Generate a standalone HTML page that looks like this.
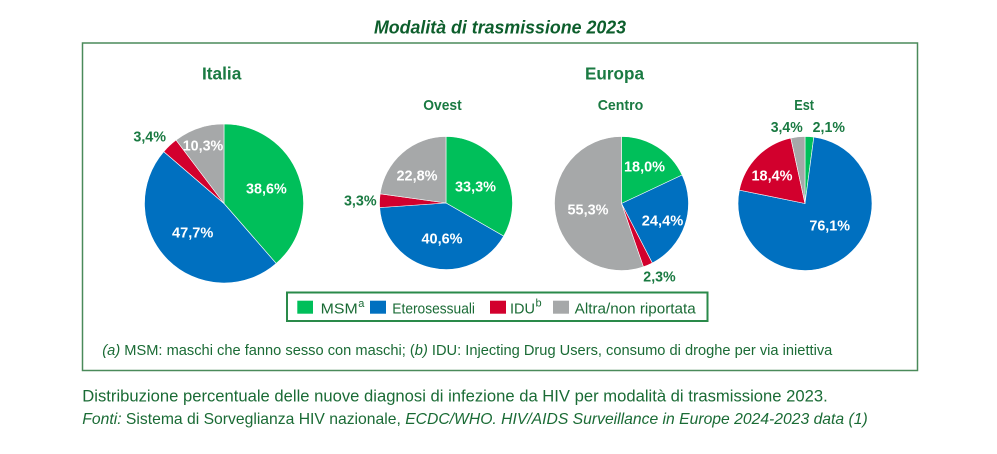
<!DOCTYPE html>
<html>
<head>
<meta charset="utf-8">
<style>
html,body{margin:0;padding:0;background:#fff;}
body{width:997px;height:454px;overflow:hidden;}
svg{display:block;}
text{font-family:"Liberation Sans",sans-serif;}
</style>
</head>
<body>
<svg width="997" height="454" viewBox="0 0 997 454" xmlns="http://www.w3.org/2000/svg">
  <!-- Title -->
  <text x="374" y="33.3" font-size="18" font-weight="bold" font-style="italic" fill="#0d5e2c" textLength="252" lengthAdjust="spacingAndGlyphs">Modalità di trasmissione 2023</text>

  <!-- Frame -->
  <rect x="82.5" y="43" width="835" height="327.5" fill="none" stroke="#4a8a5a" stroke-width="1.5"/>

  <!-- Headings -->
  <g font-weight="bold" fill="#1a7a42">
    <text x="202" y="79.3" font-size="17.5" textLength="39.3" lengthAdjust="spacingAndGlyphs">Italia</text>
    <text x="585" y="79.5" font-size="17.5" textLength="59" lengthAdjust="spacingAndGlyphs">Europa</text>
    <text x="423.3" y="110" font-size="15" textLength="38.4" lengthAdjust="spacingAndGlyphs">Ovest</text>
    <text x="597.7" y="110" font-size="15" textLength="45.6" lengthAdjust="spacingAndGlyphs">Centro</text>
    <text x="794.3" y="110" font-size="15" textLength="19.7" lengthAdjust="spacingAndGlyphs">Est</text>
  </g>

  <!-- Pies -->
  <g stroke="#ffffff" stroke-width="0.6" stroke-linejoin="round">
    <!-- Italia -->
    <path d="M224,203.5 L224,124 A79.5,79.5 0 0 1 276.20,263.47 Z" fill="#00bf5a"/>
    <path d="M224,203.5 L276.20,263.47 A79.5,79.5 0 0 1 163.73,151.66 Z" fill="#0070c0"/>
    <path d="M224,203.5 L163.73,151.66 A79.5,79.5 0 0 1 176.06,140.07 Z" fill="#d2002d"/>
    <path d="M224,203.5 L176.06,140.07 A79.5,79.5 0 0 1 224,124 Z" fill="#a6a8a9"/>
    <!-- Ovest -->
    <path d="M446,203 L446,136.5 A66.5,66.5 0 0 1 503.66,236.13 Z" fill="#00bf5a"/>
    <path d="M446,203 L503.66,236.13 A66.5,66.5 0 0 1 379.66,207.59 Z" fill="#0070c0"/>
    <path d="M446,203 L379.66,207.59 A66.5,66.5 0 0 1 380.13,193.84 Z" fill="#d2002d"/>
    <path d="M446,203 L380.13,193.84 A66.5,66.5 0 0 1 446,136.5 Z" fill="#a6a8a9"/>
    <!-- Centro -->
    <path d="M621.5,203.5 L621.5,136.5 A67,67 0 0 1 682.12,174.97 Z" fill="#00bf5a"/>
    <path d="M621.5,203.5 L682.12,174.97 A67,67 0 0 1 652.29,263.00 Z" fill="#0070c0"/>
    <path d="M621.5,203.5 L652.29,263.00 A67,67 0 0 1 643.40,266.82 Z" fill="#d2002d"/>
    <path d="M621.5,203.5 L643.40,266.82 A67,67 0 1 1 621.5,136.5 Z" fill="#a6a8a9"/>
    <!-- Est -->
    <path d="M805,203.5 L805,136.5 A67,67 0 0 1 813.82,137.08 Z" fill="#00bf5a"/>
    <path d="M805,203.5 L813.82,137.08 A67,67 0 1 1 739.35,190.12 Z" fill="#0070c0"/>
    <path d="M805,203.5 L739.35,190.12 A67,67 0 0 1 790.80,138.02 Z" fill="#d2002d"/>
    <path d="M805,203.5 L790.80,138.02 A67,67 0 0 1 805,136.5 Z" fill="#a6a8a9"/>
  </g>

  <!-- Pie labels -->
  <g font-size="15" font-weight="bold" text-anchor="middle">
    <g fill="#ffffff">
      <text x="266.4" y="193.3" textLength="40.7" lengthAdjust="spacingAndGlyphs">38,6%</text>
      <text x="192.7" y="237.3" textLength="41.3" lengthAdjust="spacingAndGlyphs">47,7%</text>
      <text x="203" y="150.7" textLength="40.6" lengthAdjust="spacingAndGlyphs">10,3%</text>
      <text x="475.5" y="191.3" textLength="41" lengthAdjust="spacingAndGlyphs">33,3%</text>
      <text x="417" y="180.7" textLength="41" lengthAdjust="spacingAndGlyphs">22,8%</text>
      <text x="442" y="243.3" textLength="41" lengthAdjust="spacingAndGlyphs">40,6%</text>
      <text x="644.5" y="171.3" textLength="41" lengthAdjust="spacingAndGlyphs">18,0%</text>
      <text x="588" y="214.7" textLength="41" lengthAdjust="spacingAndGlyphs">55,3%</text>
      <text x="662.5" y="225.3" textLength="41.6" lengthAdjust="spacingAndGlyphs">24,4%</text>
      <text x="772" y="180.7" textLength="41" lengthAdjust="spacingAndGlyphs">18,4%</text>
      <text x="829.7" y="230.7" textLength="40.7" lengthAdjust="spacingAndGlyphs">76,1%</text>
    </g>
    <g fill="#1a7a42">
      <text x="149.7" y="141.7" textLength="32.7" lengthAdjust="spacingAndGlyphs">3,4%</text>
      <text x="360.3" y="205.7" textLength="32.7" lengthAdjust="spacingAndGlyphs">3,3%</text>
      <text x="659.5" y="281.7" textLength="32.4" lengthAdjust="spacingAndGlyphs">2,3%</text>
      <text x="786.7" y="132" textLength="32" lengthAdjust="spacingAndGlyphs">3,4%</text>
      <text x="828.8" y="132" textLength="32.3" lengthAdjust="spacingAndGlyphs">2,1%</text>
    </g>
  </g>

  <!-- Legend -->
  <rect x="287" y="292.5" width="420.5" height="28.5" fill="#ffffff" stroke="#2a8a4a" stroke-width="2"/>
  <rect x="297.3" y="300.7" width="15.7" height="13" fill="#00bf5a"/>
  <rect x="370" y="300.7" width="16" height="13" fill="#0070c0"/>
  <rect x="490" y="300.7" width="16" height="13" fill="#d2002d"/>
  <rect x="553" y="300.7" width="16" height="13" fill="#a6a8a9"/>
  <g font-size="15" fill="#1a6b35">
    <text x="320.7" y="313.3" textLength="37" lengthAdjust="spacingAndGlyphs">MSM</text>
    <text x="358.3" y="306.8" font-size="11">a</text>
    <text x="392.3" y="313.3" textLength="82.7" lengthAdjust="spacingAndGlyphs">Eterosessuali</text>
    <text x="510" y="313.3" textLength="25" lengthAdjust="spacingAndGlyphs">IDU</text>
    <text x="535.5" y="306.5" font-size="11">b</text>
    <text x="574.7" y="313.3" textLength="121" lengthAdjust="spacingAndGlyphs">Altra/non riportata</text>
  </g>

  <!-- Footnote -->
  <text x="102.3" y="355" font-size="14.5" fill="#1a6b35" textLength="730" lengthAdjust="spacingAndGlyphs"><tspan font-style="italic">(a)</tspan> MSM: maschi che fanno sesso con maschi; (<tspan font-style="italic">b)</tspan> IDU: Injecting Drug Users, consumo di droghe per via iniettiva</text>

  <!-- Caption -->
  <text x="82.3" y="401.5" font-size="16.5" fill="#1a6b35" textLength="745.4" lengthAdjust="spacingAndGlyphs">Distribuzione percentuale delle nuove diagnosi di infezione da HIV per modalità di trasmissione 2023.</text>
  <text x="82.3" y="424" font-size="16" fill="#1a6b35" textLength="785.4" lengthAdjust="spacingAndGlyphs"><tspan font-style="italic">Fonti:</tspan> Sistema di Sorveglianza HIV nazionale, <tspan font-style="italic">ECDC/WHO. HIV/AIDS Surveillance in Europe 2024-2023 data (1)</tspan></text>
</svg>
</body>
</html>
